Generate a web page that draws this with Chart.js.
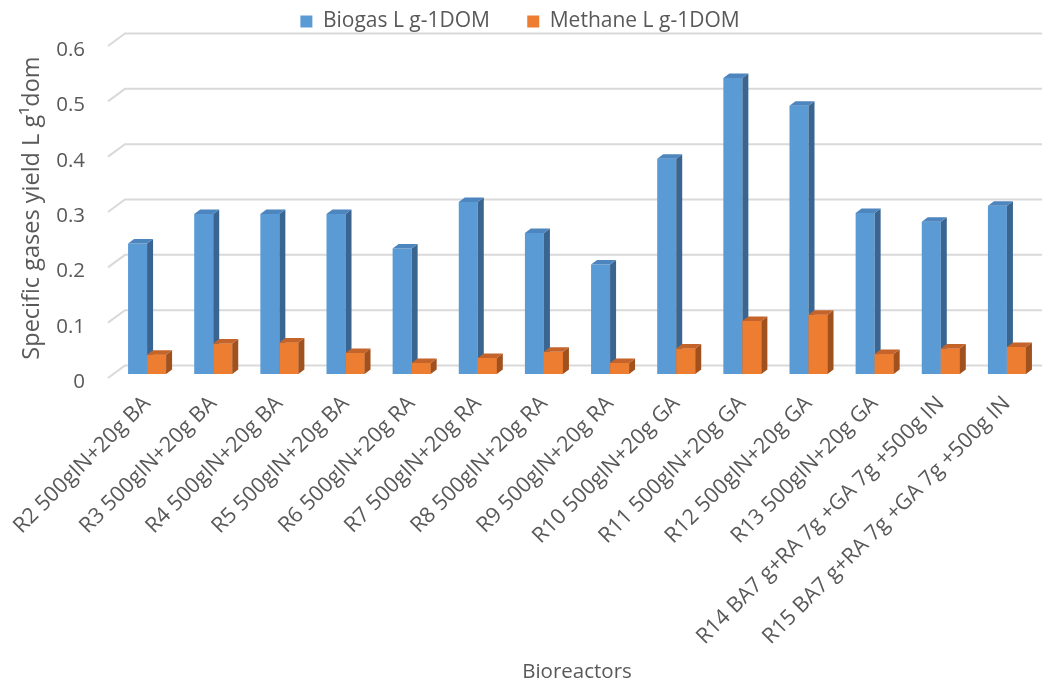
<!DOCTYPE html>
<html>
<head>
<meta charset="utf-8">
<script src="https://cdn.jsdelivr.net/npm/chart.js@4.4.0/dist/chart.umd.min.js"></script>
<style>
body { margin: 0; background: #fff; }
#wrap { width: 1042px; height: 686px; }
</style>
</head>
<body>
<div id="wrap"><canvas id="myChart" width="1042" height="686"></canvas></div>
<script>
var categories = ["R2 500gIN+20g BA", "R3 500gIN+20g BA", "R4 500gIN+20g BA", "R5 500gIN+20g BA",
    "R6 500gIN+20g RA", "R7 500gIN+20g RA", "R8 500gIN+20g RA", "R9 500gIN+20g RA",
    "R10 500gIN+20g GA", "R11 500gIN+20g GA", "R12 500gIN+20g GA", "R13 500gIN+20g GA",
    "R14 BA7 g+RA 7g +GA 7g +500g IN", "R15 BA7 g+RA 7g +GA 7g +500g IN"];
var biogas = [0.236, 0.289, 0.289, 0.289, 0.227, 0.311, 0.255, 0.198, 0.389, 0.535, 0.485, 0.291, 0.275, 0.304];
var methane = [0.035, 0.055, 0.057, 0.038, 0.020, 0.029, 0.040, 0.020, 0.046, 0.096, 0.107, 0.036, 0.046, 0.049];
var seriesNames = ["Biogas L g-1DOM", "Methane L g-1DOM"];
var yTitle = "Specific gases yield L g\u00b9dom";
var xTitle = "Bioreactors";

var frontColors = ["#5b9bd5", "#ed7d31"];
var sideColors = ["#3a6590", "#a0511e"];
var topColors = ["#4d85be", "#c4642a"];
var textColor = "#595959";
var fontName = "'Open Sans'";

// back wall gridlines with the slanted stubs on the left
var wallPlugin = {
    id: 'wall',
    beforeDatasetsDraw: function (chart) {
        var ys = chart.scales.y, ctx = chart.ctx, left = chart.chartArea.left;
        ctx.save();
        ctx.strokeStyle = '#d9d9d9';
        ctx.lineWidth = 2;
        ys.ticks.forEach(function (t) {
            var py = ys.getPixelForValue(t.value);
            ctx.beginPath();
            ctx.moveTo(left - 6, py + 4);
            ctx.lineTo(left + 11, py - 8.5);
            ctx.lineTo(chart.width, py - 8.5);
            ctx.stroke();
        });
        ctx.restore();
    }
};

function drawFaces(ctx, bar, i) {
    var dx = 6, dy = 4.5;
    var p = bar.getProps(['x', 'y', 'base', 'width'], true);
    var l = p.x - p.width / 2, r = p.x + p.width / 2;
    ctx.fillStyle = sideColors[i];
    ctx.beginPath();
    ctx.moveTo(r, p.y);
    ctx.lineTo(r + dx, p.y - dy);
    ctx.lineTo(r + dx, p.base - dy);
    ctx.lineTo(r, p.base);
    ctx.closePath();
    ctx.fill();
    ctx.fillStyle = topColors[i];
    ctx.beginPath();
    ctx.moveTo(l, p.y);
    ctx.lineTo(l + dx, p.y - dy);
    ctx.lineTo(r + dx, p.y - dy);
    ctx.lineTo(r, p.y);
    ctx.closePath();
    ctx.fill();
}

// side and top faces so the bars look like the excel 3d columns
// blue faces first, then the orange fronts go back on top of them
var boxPlugin = {
    id: 'box3d',
    afterDatasetsDraw: function (chart) {
        var ctx = chart.ctx;
        ctx.save();
        chart.getDatasetMeta(0).data.forEach(function (bar) { drawFaces(ctx, bar, 0); });
        chart.getDatasetMeta(1).data.forEach(function (bar) {
            bar.draw(ctx);
            drawFaces(ctx, bar, 1);
        });
        ctx.restore();
    }
};

new Chart("myChart", {
    type: "bar",
    data: {
        labels: categories,
        datasets: [{
            label: seriesNames[0],
            data: biogas,
            backgroundColor: frontColors[0]
        }, {
            label: seriesNames[1],
            data: methane,
            backgroundColor: frontColors[1]
        }]
    },
    options: {
        responsive: false,
        animation: false,
        devicePixelRatio: 1,
        categoryPercentage: 0.575,
        barPercentage: 1,
        layout: { padding: { left: 0, right: 2, top: 1, bottom: 0 } },
        plugins: {
            legend: {
                position: 'top',
                labels: {
                    boxWidth: 12,
                    boxHeight: 12,
                    padding: 10,
                    color: textColor,
                    font: { family: fontName, size: 21 },
                    generateLabels: function (chart) {
                        var items = Chart.defaults.plugins.legend.labels.generateLabels(chart);
                        items[0].text = items[0].text + "     ";
                        return items;
                    }
                }
            },
            tooltip: { enabled: false }
        },
        scales: {
            x: {
                grid: { display: false, drawTicks: false },
                border: { display: false },
                ticks: {
                    color: textColor,
                    font: { family: fontName, size: 21.5 },
                    minRotation: 45,
                    maxRotation: 45,
                    autoSkip: false,
                    padding: 17
                },
                title: {
                    display: true,
                    text: xTitle,
                    color: textColor,
                    font: { family: fontName, size: 20.5 },
                    padding: { top: 0, bottom: 2 }
                },
                afterFit: function (scale) {
                    scale.height = 686 - 374;
                    scale.paddingLeft = 0;
                    scale.paddingRight = 0;
                }
            },
            y: {
                min: 0,
                max: 0.6,
                grid: { display: false, drawTicks: false },
                border: { display: false },
                ticks: {
                    stepSize: 0.1,
                    color: textColor,
                    font: { family: fontName, size: 20.5 },
                    padding: 29,
                    labelOffset: 8
                },
                title: {
                    display: true,
                    text: yTitle,
                    color: textColor,
                    font: { family: fontName, size: 23.5 },
                    padding: { top: 18, bottom: 0 }
                },
                afterFit: function (scale) { scale.width = 114; }
            }
        }
    },
    plugins: [wallPlugin, boxPlugin]
});
</script>
</body>
</html>
